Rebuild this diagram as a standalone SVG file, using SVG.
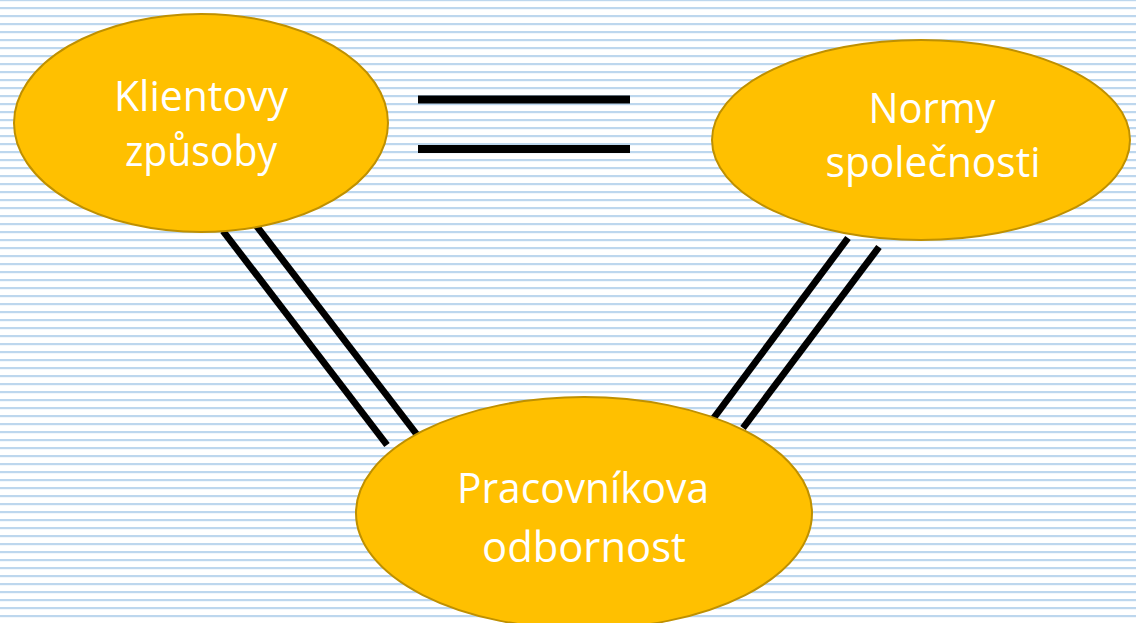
<svg xmlns="http://www.w3.org/2000/svg" width="1136" height="623" viewBox="0 0 1136 623">
  <defs>
    <pattern id="stripes" patternUnits="userSpaceOnUse" x="0" y="-1" width="8" height="8">
      <rect x="0" y="0" width="8" height="2.2" fill="#BDD7EE"/>
    </pattern>
    <style>
      .node { fill: #FFC000; stroke: #BF9000; stroke-width: 2; }
      .label { fill: #FFFFFF; font-family: "Open Sans", "Liberation Sans", sans-serif; font-size: 42px; text-anchor: middle; }
      .diag { stroke: #000000; stroke-width: 6.8; stroke-linecap: butt; fill: none; }
      .eq { stroke: #000000; stroke-width: 8; stroke-linecap: butt; fill: none; }
    </style>
  </defs>
  <rect x="0" y="0" width="1136" height="623" fill="#FFFFFF"/>
  <rect x="0" y="0" width="1136" height="623" fill="url(#stripes)"/>

  <g id="connectors">
    <line class="eq" x1="418" y1="99.5" x2="630" y2="99.5"/>
    <line class="eq" x1="418" y1="149" x2="630" y2="149"/>
    <line class="diag" x1="223" y1="231" x2="387" y2="445"/>
    <line class="diag" x1="255" y1="224" x2="418" y2="436"/>
    <line class="diag" x1="848" y1="238" x2="713" y2="419"/>
    <line class="diag" x1="879" y1="247" x2="743" y2="428"/>
  </g>

  <g id="node-klient">
    <ellipse class="node" cx="201" cy="123" rx="187" ry="109"/>
    <text class="label" x="201" y="111" textLength="174" lengthAdjust="spacingAndGlyphs">Klientovy</text>
    <text class="label" x="201" y="166" textLength="152" lengthAdjust="spacingAndGlyphs">způsoby</text>
  </g>

  <g id="node-normy">
    <ellipse class="node" cx="921" cy="140" rx="209" ry="100"/>
    <text class="label" x="932" y="123" textLength="127" lengthAdjust="spacingAndGlyphs">Normy</text>
    <text class="label" x="933" y="177" textLength="215" lengthAdjust="spacingAndGlyphs">společnosti</text>
  </g>

  <g id="node-pracovnik">
    <ellipse class="node" cx="584" cy="513" rx="228" ry="116"/>
    <text class="label" x="583" y="503" textLength="252" lengthAdjust="spacingAndGlyphs">Pracovníkova</text>
    <text class="label" x="584" y="562" textLength="204" lengthAdjust="spacingAndGlyphs">odbornost</text>
  </g>
</svg>
